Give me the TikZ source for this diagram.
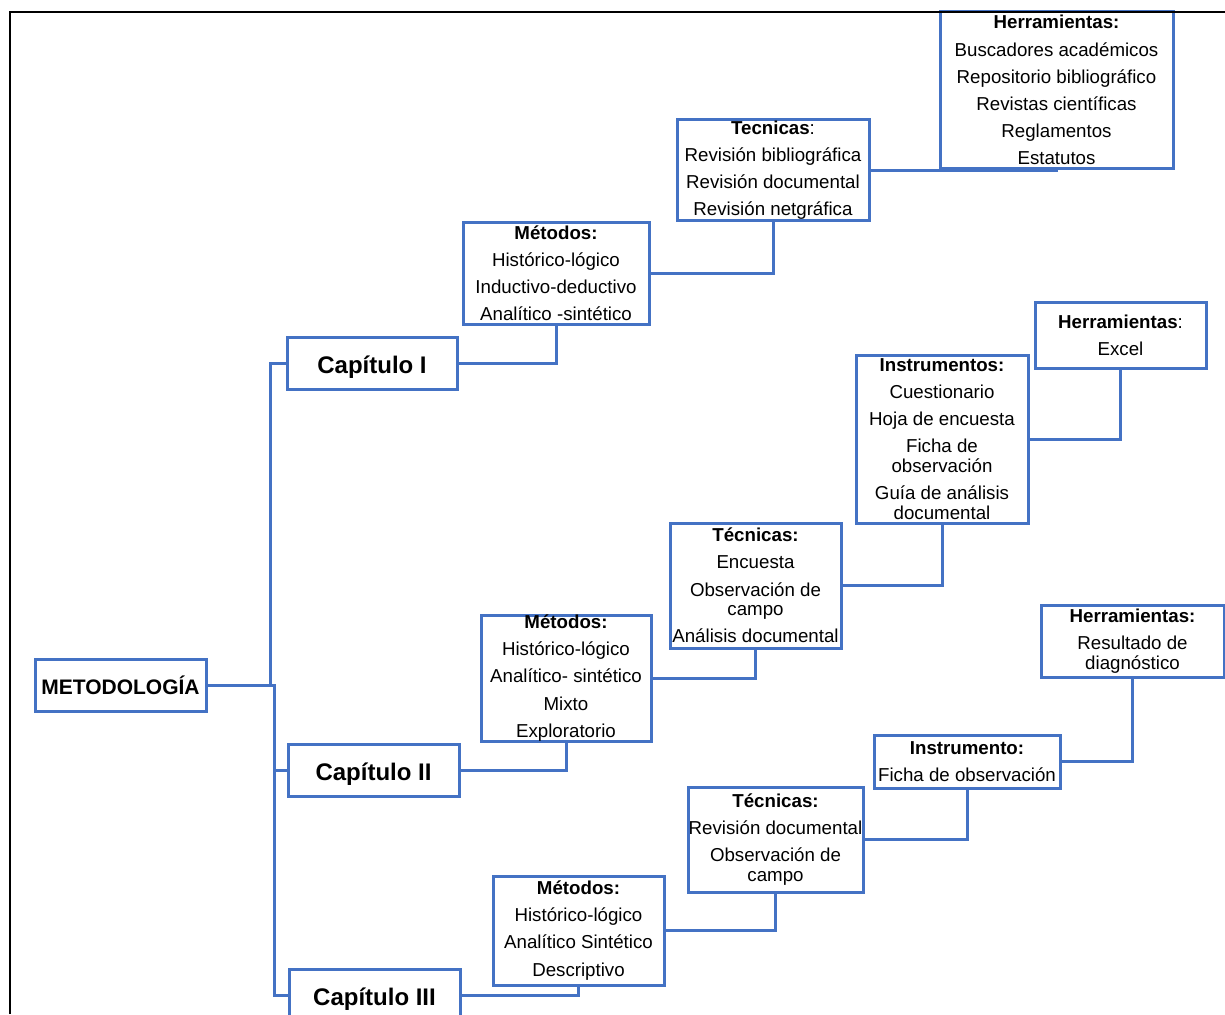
\documentclass[tikz,border=0pt]{standalone}
\usepackage{fontspec}
\setmainfont{Liberation Sans}
\definecolor{boxblue}{RGB}{68,114,196}
\newcommand{\ngap}{\\[7.6pt]}
\begin{document}
\begin{tikzpicture}[x=1pt,y=-1pt,
  box/.style={draw=boxblue, line width=3pt, fill=white, inner sep=0pt, align=center,
    font=\fontsize{18.7}{19.5}\selectfont, text=black},
  chap/.style={box, minimum width=171pt, minimum height=52pt, font=\fontsize{24}{28}\selectfont\bfseries,
    execute at begin node={\rule{0pt}{25pt}}},
  conn/.style={draw=boxblue, line width=3pt}]
\useasboundingbox (0,0) rectangle (1225,1014);

% Nodes
\node[box, minimum width=233pt, minimum height=156pt] (herr1) at (1056.5,90)
  {\textbf{Herramientas:}\ngap Buscadores académicos\ngap Repositorio bibliográfico\ngap Revistas científicas\ngap Reglamentos\ngap Estatutos};
\node[box, minimum width=192pt, minimum height=100pt] (tec1) at (773,170)
  {\textbf{Tecnicas}:\ngap Revisión bibliográfica\ngap Revisión documental\ngap Revisión netgráfica};
\node[box, minimum width=186pt, minimum height=102pt] (met1) at (556,273)
  {\textbf{Métodos:}\ngap Histórico-lógico\ngap Inductivo-deductivo\ngap Analítico -sintético};
\node[chap, minimum width=170pt] (cap1) at (372,363) {Capítulo I};

\node[box, minimum width=171pt, minimum height=52pt, font=\fontsize{21}{24}\selectfont\bfseries,
  execute at begin node={\rule{0pt}{19pt}}] (meto) at (120.5,685) {METODOLOGÍA};

\node[chap] (cap2) at (373.5,770) {Capítulo II};
\node[box, minimum width=170pt, minimum height=124pt] (met2) at (566,678)
  {\textbf{Métodos:}\ngap Histórico-lógico\ngap Analítico- sintético\ngap Mixto\ngap Exploratorio};
\node[box, minimum width=171pt, minimum height=125pt] (tec2) at (755.5,585.5)
  {\textbf{Técnicas:}\ngap Encuesta\ngap Observación de\\campo\ngap Análisis documental};
\node[box, minimum width=172pt, minimum height=168pt] (instr) at (942,439)
  {\textbf{Instrumentos:}\ngap Cuestionario\ngap Hoja de encuesta\ngap Ficha de\\observación\ngap Guía de análisis\\documental};
\node[box, minimum width=171pt, minimum height=66pt] (herr2) at (1120.5,335)
  {\textbf{Herramientas}:\ngap Excel};

\node[chap] (cap3) at (374.5,995) {Capítulo III};
\node[box, minimum width=171pt, minimum height=109pt] (met3) at (578.5,930.5)
  {\textbf{Métodos:}\ngap Histórico-lógico\ngap Analítico Sintético\ngap Descriptivo};
\node[box, minimum width=175pt, minimum height=105pt] (tec3) at (775.5,839.5)
  {\textbf{Técnicas:}\ngap Revisión documental\ngap Observación de\\campo};
\node[box, minimum width=186pt, minimum height=53pt] (instr3) at (967,761.5)
  {\textbf{Instrumento:}\ngap Ficha de observación};
\node[box, minimum width=183pt, minimum height=72pt] (herr3) at (1132.5,641)
  {\textbf{Herramientas:}\ngap Resultado de\\diagnóstico};

% Connectors
\draw[conn] (tec1.east) -| (herr1.south);
\draw[conn] (met1.east) -| (tec1.south);
\draw[conn] (cap1.east) -| (met1.south);
\draw[conn] (cap2.east) -| (met2.south);
\draw[conn] (met2.east) -| (tec2.south);
\draw[conn] (tec2.east) -| (instr.south);
\draw[conn] (instr.east) -| (herr2.south);
\draw[conn] (cap3.east) -| (met3.south);
\draw[conn] (met3.east) -| (tec3.south);
\draw[conn] (tec3.east) -| (instr3.south);
\draw[conn] (instr3.east) -| (herr3.south);
\draw[conn] (meto.east) -- ++(63,0) |- (cap1.west);
\draw[conn] (meto.east) -- ++(67,0) |- (cap2.west);
\draw[conn] (meto.east) -- ++(67,0) |- (cap3.west);

% Outer frame
\draw[black, line width=2pt] (10,1014) -- (10,12) -- (1225,12);
\end{tikzpicture}
\end{document}
